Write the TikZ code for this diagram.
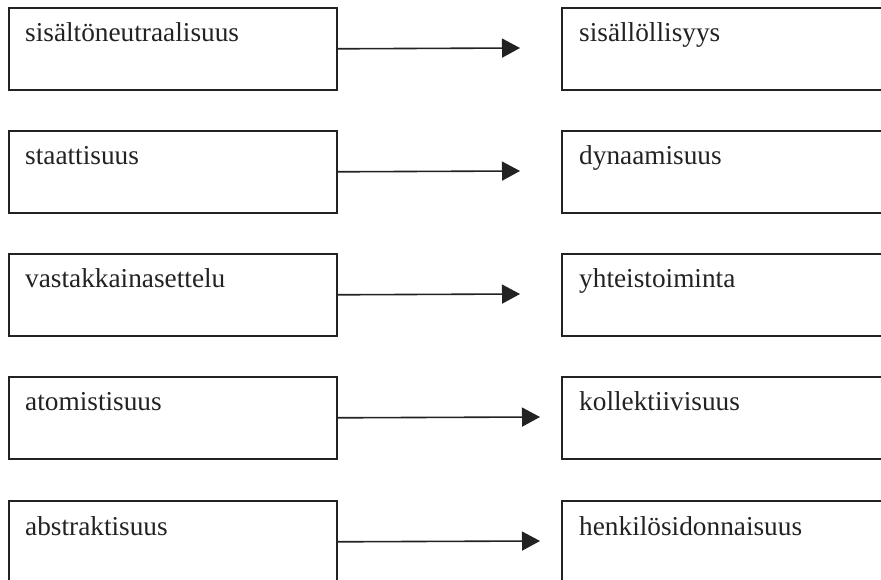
\documentclass[tikz,border=0pt]{standalone}
\usepackage{fontspec}
\setmainfont{Liberation Serif}
\usetikzlibrary{arrows.meta}
\definecolor{ink}{HTML}{222222}
\begin{document}
\begin{tikzpicture}[x=1pt,y=1pt,
  box/.style={draw=ink, line width=1.6pt, rectangle, inner sep=0pt,
    minimum height=82pt, anchor=north west},
  leftbox/.style={box, minimum width=328pt},
  rightbox/.style={box, minimum width=340pt},
  lbl/.style={text=ink, inner sep=0pt, anchor=base west,
    font=\fontsize{27.3}{32}\selectfont},
  link/.style={draw=ink, line width=1.6pt,
    -{Triangle[length=18pt,width=19pt]}}]
  \useasboundingbox (0,0) rectangle (881,579);
  \clip (0,0) rectangle (881,579);
  % rows: top edges of the boxes, tip of the arrow, words
  \foreach \i/\top/\tip/\a/\b in {
      1/572/520/sisältöneutraalisuus/sisällöllisyys,
      2/449/520/staattisuus/dynaamisuus,
      3/326/520/vastakkainasettelu/yhteistoiminta,
      4/203/540/atomistisuus/kollektiivisuus,
      5/79/540/abstraktisuus/henkilösidonnaisuus} {
    \node[leftbox] (l\i) at (8,\top) {};
    \node[rightbox] (r\i) at (561,\top) {};
    \node[lbl] (lt\i) at ([shift={(17,-35)}]l\i.north west) {\a};
    \node[lbl] (rt\i) at ([shift={(18,-35)}]r\i.north west) {\b};
    \coordinate (e\i) at (\tip,\top-41);
    \draw[link] (l\i.east) -- (e\i);
  }
\end{tikzpicture}
\end{document}
